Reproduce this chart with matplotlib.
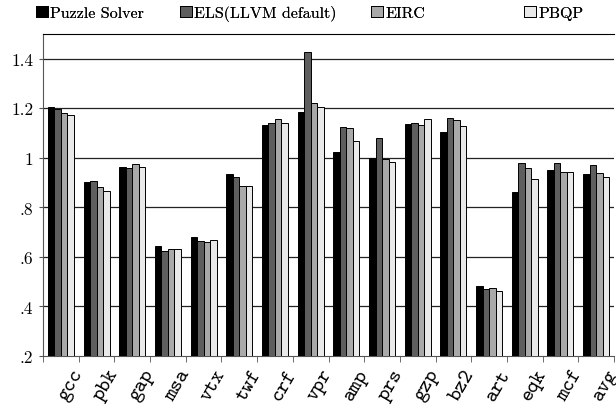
import numpy as np
import matplotlib
matplotlib.use("Agg")
import matplotlib.pyplot as plt
import matplotlib.transforms as mtransforms
from matplotlib.patches import Patch

plt.rcParams['font.family'] = 'serif'
plt.rcParams['font.serif'] = ['cmr10', 'DejaVu Serif']
plt.rcParams['axes.formatter.use_mathtext'] = True

benchmarks = ['gcc', 'pbk', 'gap', 'msa', 'vtx', 'twf', 'crf', 'vpr',
              'amp', 'prs', 'gzp', 'bz2', 'art', 'eqk', 'mcf', 'avg']
series = ['Puzzle Solver', 'ELS(LLVM default)', 'EIRC', 'PBQP']

puzzle = [1.207, 0.904, 0.964, 0.646, 0.679, 0.935, 1.133, 1.187,
          1.023, 1.000, 1.137, 1.105, 0.484, 0.861, 0.950, 0.935]
els = [1.198, 0.908, 0.957, 0.623, 0.663, 0.922, 1.140, 1.427,
       1.124, 1.082, 1.139, 1.159, 0.471, 0.980, 0.980, 0.973]
eirc = [1.181, 0.881, 0.974, 0.634, 0.661, 0.886, 1.155, 1.222,
        1.121, 0.995, 1.133, 1.154, 0.476, 0.957, 0.941, 0.937]
pbqp = [1.174, 0.865, 0.965, 0.630, 0.667, 0.888, 1.141, 1.207,
        1.070, 0.984, 1.158, 1.127, 0.461, 0.914, 0.941, 0.924]

yticks = [0.2, 0.4, 0.6, 0.8, 1.0, 1.2, 1.4]
ytick_labels = ['.2', '.4', '.6', '.8', '1', '1.2', '1.4']

colors = ['#000000', '#5e5e5e', '#a9a9a9', '#e9e9e9']

fig = plt.figure(figsize=(6.16, 4.06), dpi=100)
ax = fig.add_axes([43 / 616, 1 - 357 / 406, 571 / 616, 322 / 406])

x = np.arange(len(benchmarks)) + 0.5
width = 0.182
for i, (vals, col, name) in enumerate(zip([puzzle, els, eirc, pbqp], colors, series)):
    ax.bar(x + (i - 1.5) * width, np.array(vals) - 0.2, width, bottom=0.2,
           color=col, edgecolor='black', linewidth=0.7, label=name, zorder=3)

ax.set_xlim(0, len(benchmarks))
ax.set_ylim(0.2, 1.5)
ax.set_yticks(yticks)
ax.set_yticklabels(ytick_labels, fontsize=12.5)
for y in yticks[1:]:
    ax.axhline(y, color='#222222', linewidth=0.9, zorder=1)

ax.set_xticks(x)
ax.set_xticks(np.arange(len(benchmarks) + 1), minor=True)
ax.set_xticklabels(benchmarks, rotation=60, family='cmtt10', fontsize=15,
                   ha='right', va='top', rotation_mode='anchor')
ax.tick_params(axis='x', which='major', length=0, pad=7)
ax.tick_params(axis='x', which='minor', length=4, direction='out', color='#555555')
ax.tick_params(axis='y', length=3, direction='out', color='#555555', pad=4)
shift = mtransforms.ScaledTranslation(10 / 100, 0, fig.dpi_scale_trans)
for lbl in ax.get_xticklabels():
    lbl.set_transform(lbl.get_transform() + shift)

ax.spines['right'].set_visible(False)
ax.spines['left'].set_color('#555555')
ax.spines['bottom'].set_color('#555555')
ax.spines['top'].set_color('black')

# legend entries placed one by one like the original
legend_x = [36, 180, 371, 524]
for col, name, lx in zip(colors, series, legend_x):
    h = Patch(facecolor=col, edgecolor='black', linewidth=0.7)
    lg = fig.legend([h], [name], loc='center left', bbox_to_anchor=(lx / 616, 1 - 14 / 406),
                    frameon=False, fontsize=11.5, handlelength=0.75, handleheight=0.75,
                    handletextpad=0.15, borderpad=0, borderaxespad=0)
    fig.add_artist(lg)

fig.savefig('out.png', dpi=100)
